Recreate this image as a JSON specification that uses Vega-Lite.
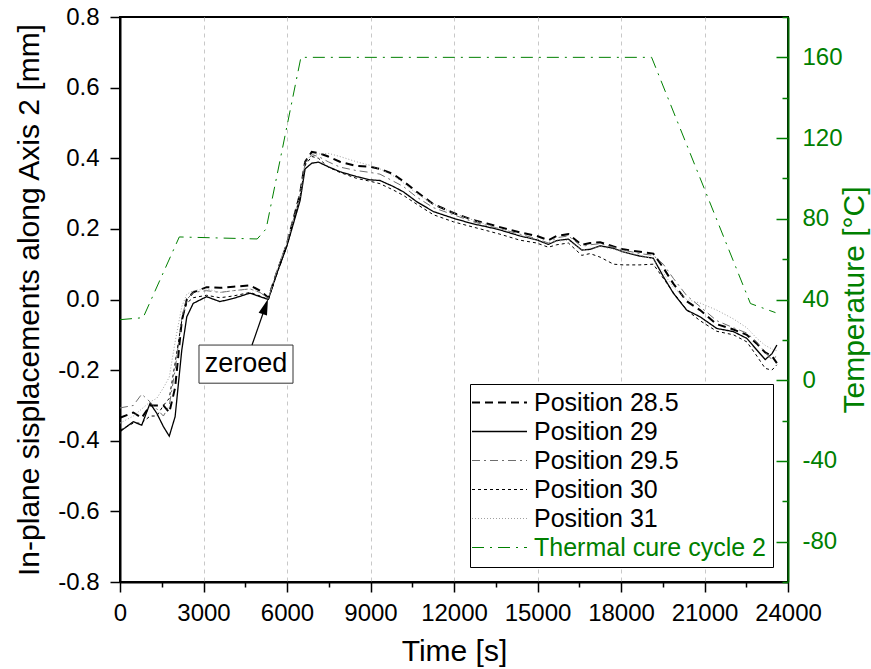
{
  "$schema": "https://vega.github.io/schema/vega-lite/v6.json",
  "width": 668,
  "height": 565,
  "autosize": "none",
  "padding": {"left": 120, "top": 17, "right": 83, "bottom": 87},
  "background": "white",
  "config": {
    "font": "Liberation Sans",
    "view": {"stroke": "black", "strokeWidth": 2},
    "axis": {
      "labelFont": "Liberation Sans",
      "titleFont": "Liberation Sans",
      "titleFontWeight": "normal",
      "labelFontSize": 24,
      "titleFontSize": 30,
      "domainWidth": 2,
      "tickWidth": 1.5,
      "labelFlush": false,
      "labelOverlap": false
    }
  },
  "datasets": {
    "disp": [
      {"t":0,"s":"Position 28.5","v":-0.335},{"t":0,"s":"Position 29","v":-0.374},{"t":0,"s":"Position 29.5","v":-0.307},{"t":0,"s":"Position 30","v":-0.37},{"t":0,"s":"Position 31","v":-0.35},
      {"t":480,"s":"Position 28.5","v":-0.32},{"t":480,"s":"Position 29","v":-0.346},{"t":480,"s":"Position 29.5","v":-0.3},{"t":480,"s":"Position 30","v":-0.35},{"t":480,"s":"Position 31","v":-0.33},
      {"t":780,"s":"Position 28.5","v":-0.335},{"t":780,"s":"Position 29","v":-0.356},{"t":780,"s":"Position 29.5","v":-0.268},{"t":780,"s":"Position 30","v":-0.35},{"t":780,"s":"Position 31","v":-0.31},
      {"t":1080,"s":"Position 28.5","v":-0.3},{"t":1080,"s":"Position 29","v":-0.294},{"t":1080,"s":"Position 29.5","v":-0.29},{"t":1080,"s":"Position 30","v":-0.33},{"t":1080,"s":"Position 31","v":-0.29},
      {"t":1320,"s":"Position 28.5","v":-0.3},{"t":1320,"s":"Position 29","v":-0.322},{"t":1320,"s":"Position 29.5","v":-0.31},{"t":1320,"s":"Position 30","v":-0.33},{"t":1320,"s":"Position 31","v":-0.28},
      {"t":1560,"s":"Position 28.5","v":-0.3},{"t":1560,"s":"Position 29","v":-0.36},{"t":1560,"s":"Position 29.5","v":-0.33},{"t":1560,"s":"Position 30","v":-0.3},{"t":1560,"s":"Position 31","v":-0.25},
      {"t":1770,"s":"Position 28.5","v":-0.32},{"t":1770,"s":"Position 29","v":-0.387},{"t":1770,"s":"Position 29.5","v":-0.3},{"t":1770,"s":"Position 30","v":-0.28},{"t":1770,"s":"Position 31","v":-0.22},
      {"t":1980,"s":"Position 28.5","v":-0.25},{"t":1980,"s":"Position 29","v":-0.332},{"t":1980,"s":"Position 29.5","v":-0.2},{"t":1980,"s":"Position 30","v":-0.18},{"t":1980,"s":"Position 31","v":-0.12},
      {"t":2220,"s":"Position 28.5","v":-0.06},{"t":2220,"s":"Position 29","v":-0.143},{"t":2220,"s":"Position 29.5","v":-0.05},{"t":2220,"s":"Position 30","v":-0.06},{"t":2220,"s":"Position 31","v":-0.02},
      {"t":2400,"s":"Position 28.5","v":0.0},{"t":2400,"s":"Position 29","v":-0.049},{"t":2400,"s":"Position 29.5","v":0.0},{"t":2400,"s":"Position 30","v":-0.01},{"t":2400,"s":"Position 31","v":0.015},
      {"t":2630,"s":"Position 28.5","v":0.02},{"t":2630,"s":"Position 29","v":-0.011},{"t":2630,"s":"Position 29.5","v":0.02},{"t":2630,"s":"Position 30","v":0.005},{"t":2630,"s":"Position 31","v":0.025},
      {"t":3110,"s":"Position 28.5","v":0.035},{"t":3110,"s":"Position 29","v":0.008},{"t":3110,"s":"Position 29.5","v":0.025},{"t":3110,"s":"Position 30","v":0.012},{"t":3110,"s":"Position 31","v":0.03},
      {"t":3590,"s":"Position 28.5","v":0.033},{"t":3590,"s":"Position 29","v":-0.006},{"t":3590,"s":"Position 29.5","v":0.02},{"t":3590,"s":"Position 30","v":0.005},{"t":3590,"s":"Position 31","v":0.02},
      {"t":4070,"s":"Position 28.5","v":0.036},{"t":4070,"s":"Position 29","v":0.003},{"t":4070,"s":"Position 29.5","v":0.025},{"t":4070,"s":"Position 30","v":0.01},{"t":4070,"s":"Position 31","v":0.025},
      {"t":4670,"s":"Position 28.5","v":0.04},{"t":4670,"s":"Position 29","v":0.018},{"t":4670,"s":"Position 29.5","v":0.03},{"t":4670,"s":"Position 30","v":0.02},{"t":4670,"s":"Position 31","v":0.03},
      {"t":5030,"s":"Position 28.5","v":0.025},{"t":5030,"s":"Position 29","v":0.008},{"t":5030,"s":"Position 29.5","v":0.02},{"t":5030,"s":"Position 30","v":0.01},{"t":5030,"s":"Position 31","v":0.02},
      {"t":5330,"s":"Position 28.5","v":0.005},{"t":5330,"s":"Position 29","v":0.0},{"t":5330,"s":"Position 29.5","v":0.003},{"t":5330,"s":"Position 30","v":0.0},{"t":5330,"s":"Position 31","v":0.003},
      {"t":5630,"s":"Position 28.5","v":0.075},{"t":5630,"s":"Position 29","v":0.074},{"t":5630,"s":"Position 29.5","v":0.08},{"t":5630,"s":"Position 30","v":0.07},{"t":5630,"s":"Position 31","v":0.08},
      {"t":5990,"s":"Position 28.5","v":0.155},{"t":5990,"s":"Position 29","v":0.15},{"t":5990,"s":"Position 29.5","v":0.16},{"t":5990,"s":"Position 30","v":0.15},{"t":5990,"s":"Position 31","v":0.16},
      {"t":6470,"s":"Position 28.5","v":0.3},{"t":6470,"s":"Position 29","v":0.28},{"t":6470,"s":"Position 29.5","v":0.29},{"t":6470,"s":"Position 30","v":0.29},{"t":6470,"s":"Position 31","v":0.3},
      {"t":6650,"s":"Position 28.5","v":0.39},{"t":6650,"s":"Position 29","v":0.37},{"t":6650,"s":"Position 29.5","v":0.385},{"t":6650,"s":"Position 30","v":0.38},{"t":6650,"s":"Position 31","v":0.39},
      {"t":6890,"s":"Position 28.5","v":0.418},{"t":6890,"s":"Position 29","v":0.386},{"t":6890,"s":"Position 29.5","v":0.41},{"t":6890,"s":"Position 30","v":0.405},{"t":6890,"s":"Position 31","v":0.41},
      {"t":7130,"s":"Position 28.5","v":0.415},{"t":7130,"s":"Position 29","v":0.389},{"t":7130,"s":"Position 29.5","v":0.405},{"t":7130,"s":"Position 30","v":0.4},{"t":7130,"s":"Position 31","v":0.412},
      {"t":7480,"s":"Position 28.5","v":0.405},{"t":7480,"s":"Position 29","v":0.376},{"t":7480,"s":"Position 29.5","v":0.39},{"t":7480,"s":"Position 30","v":0.375},{"t":7480,"s":"Position 31","v":0.414},
      {"t":7900,"s":"Position 28.5","v":0.39},{"t":7900,"s":"Position 29","v":0.362},{"t":7900,"s":"Position 29.5","v":0.375},{"t":7900,"s":"Position 30","v":0.36},{"t":7900,"s":"Position 31","v":0.405},
      {"t":8500,"s":"Position 28.5","v":0.378},{"t":8500,"s":"Position 29","v":0.348},{"t":8500,"s":"Position 29.5","v":0.365},{"t":8500,"s":"Position 30","v":0.343},{"t":8500,"s":"Position 31","v":0.39},
      {"t":8980,"s":"Position 28.5","v":0.376},{"t":8980,"s":"Position 29","v":0.339},{"t":8980,"s":"Position 29.5","v":0.36},{"t":8980,"s":"Position 30","v":0.335},{"t":8980,"s":"Position 31","v":0.38},
      {"t":9340,"s":"Position 28.5","v":0.37},{"t":9340,"s":"Position 29","v":0.337},{"t":9340,"s":"Position 29.5","v":0.355},{"t":9340,"s":"Position 30","v":0.328},{"t":9340,"s":"Position 31","v":0.37},
      {"t":9820,"s":"Position 28.5","v":0.355},{"t":9820,"s":"Position 29","v":0.32},{"t":9820,"s":"Position 29.5","v":0.335},{"t":9820,"s":"Position 30","v":0.31},{"t":9820,"s":"Position 31","v":0.35},
      {"t":10180,"s":"Position 28.5","v":0.335},{"t":10180,"s":"Position 29","v":0.305},{"t":10180,"s":"Position 29.5","v":0.32},{"t":10180,"s":"Position 30","v":0.295},{"t":10180,"s":"Position 31","v":0.33},
      {"t":10660,"s":"Position 28.5","v":0.305},{"t":10660,"s":"Position 29","v":0.277},{"t":10660,"s":"Position 29.5","v":0.29},{"t":10660,"s":"Position 30","v":0.27},{"t":10660,"s":"Position 31","v":0.3},
      {"t":11260,"s":"Position 28.5","v":0.27},{"t":11260,"s":"Position 29","v":0.249},{"t":11260,"s":"Position 29.5","v":0.26},{"t":11260,"s":"Position 30","v":0.24},{"t":11260,"s":"Position 31","v":0.27},
      {"t":11980,"s":"Position 28.5","v":0.245},{"t":11980,"s":"Position 29","v":0.23},{"t":11980,"s":"Position 29.5","v":0.24},{"t":11980,"s":"Position 30","v":0.22},{"t":11980,"s":"Position 31","v":0.245},
      {"t":12690,"s":"Position 28.5","v":0.225},{"t":12690,"s":"Position 29","v":0.214},{"t":12690,"s":"Position 29.5","v":0.22},{"t":12690,"s":"Position 30","v":0.205},{"t":12690,"s":"Position 31","v":0.225},
      {"t":13180,"s":"Position 28.5","v":0.215},{"t":13180,"s":"Position 29","v":0.206},{"t":13180,"s":"Position 29.5","v":0.21},{"t":13180,"s":"Position 30","v":0.195},{"t":13180,"s":"Position 31","v":0.212},
      {"t":13650,"s":"Position 28.5","v":0.205},{"t":13650,"s":"Position 29","v":0.197},{"t":13650,"s":"Position 29.5","v":0.2},{"t":13650,"s":"Position 30","v":0.185},{"t":13650,"s":"Position 31","v":0.2},
      {"t":14370,"s":"Position 28.5","v":0.19},{"t":14370,"s":"Position 29","v":0.18},{"t":14370,"s":"Position 29.5","v":0.185},{"t":14370,"s":"Position 30","v":0.168},{"t":14370,"s":"Position 31","v":0.182},
      {"t":14970,"s":"Position 28.5","v":0.18},{"t":14970,"s":"Position 29","v":0.169},{"t":14970,"s":"Position 29.5","v":0.172},{"t":14970,"s":"Position 30","v":0.16},{"t":14970,"s":"Position 31","v":0.17},
      {"t":15390,"s":"Position 28.5","v":0.168},{"t":15390,"s":"Position 29","v":0.156},{"t":15390,"s":"Position 29.5","v":0.16},{"t":15390,"s":"Position 30","v":0.148},{"t":15390,"s":"Position 31","v":0.158},
      {"t":15690,"s":"Position 28.5","v":0.18},{"t":15690,"s":"Position 29","v":0.167},{"t":15690,"s":"Position 29.5","v":0.175},{"t":15690,"s":"Position 30","v":0.155},{"t":15690,"s":"Position 31","v":0.165},
      {"t":16110,"s":"Position 28.5","v":0.185},{"t":16110,"s":"Position 29","v":0.171},{"t":16110,"s":"Position 29.5","v":0.18},{"t":16110,"s":"Position 30","v":0.16},{"t":16110,"s":"Position 31","v":0.168},
      {"t":16590,"s":"Position 28.5","v":0.155},{"t":16590,"s":"Position 29","v":0.14},{"t":16590,"s":"Position 29.5","v":0.15},{"t":16590,"s":"Position 30","v":0.125},{"t":16590,"s":"Position 31","v":0.14},
      {"t":16890,"s":"Position 28.5","v":0.16},{"t":16890,"s":"Position 29","v":0.142},{"t":16890,"s":"Position 29.5","v":0.155},{"t":16890,"s":"Position 30","v":0.13},{"t":16890,"s":"Position 31","v":0.145},
      {"t":17250,"s":"Position 28.5","v":0.162},{"t":17250,"s":"Position 29","v":0.152},{"t":17250,"s":"Position 29.5","v":0.158},{"t":17250,"s":"Position 30","v":0.12},{"t":17250,"s":"Position 31","v":0.15},
      {"t":17730,"s":"Position 28.5","v":0.15},{"t":17730,"s":"Position 29","v":0.145},{"t":17730,"s":"Position 29.5","v":0.148},{"t":17730,"s":"Position 30","v":0.1},{"t":17730,"s":"Position 31","v":0.142},
      {"t":18080,"s":"Position 28.5","v":0.142},{"t":18080,"s":"Position 29","v":0.135},{"t":18080,"s":"Position 29.5","v":0.14},{"t":18080,"s":"Position 30","v":0.098},{"t":18080,"s":"Position 31","v":0.135},
      {"t":18680,"s":"Position 28.5","v":0.135},{"t":18680,"s":"Position 29","v":0.123},{"t":18680,"s":"Position 29.5","v":0.13},{"t":18680,"s":"Position 30","v":0.098},{"t":18680,"s":"Position 31","v":0.125},
      {"t":19160,"s":"Position 28.5","v":0.13},{"t":19160,"s":"Position 29","v":0.117},{"t":19160,"s":"Position 29.5","v":0.125},{"t":19160,"s":"Position 30","v":0.1},{"t":19160,"s":"Position 31","v":0.115},
      {"t":19520,"s":"Position 28.5","v":0.09},{"t":19520,"s":"Position 29","v":0.065},{"t":19520,"s":"Position 29.5","v":0.1},{"t":19520,"s":"Position 30","v":0.06},{"t":19520,"s":"Position 31","v":0.075},
      {"t":19880,"s":"Position 28.5","v":0.045},{"t":19880,"s":"Position 29","v":0.018},{"t":19880,"s":"Position 29.5","v":0.06},{"t":19880,"s":"Position 30","v":0.02},{"t":19880,"s":"Position 31","v":0.035},
      {"t":20360,"s":"Position 28.5","v":-0.005},{"t":20360,"s":"Position 29","v":-0.03},{"t":20360,"s":"Position 29.5","v":0.011},{"t":20360,"s":"Position 30","v":-0.03},{"t":20360,"s":"Position 31","v":0.0},
      {"t":20840,"s":"Position 28.5","v":-0.03},{"t":20840,"s":"Position 29","v":-0.049},{"t":20840,"s":"Position 29.5","v":-0.02},{"t":20840,"s":"Position 30","v":-0.06},{"t":20840,"s":"Position 31","v":-0.01},
      {"t":21440,"s":"Position 28.5","v":-0.07},{"t":21440,"s":"Position 29","v":-0.082},{"t":21440,"s":"Position 29.5","v":-0.06},{"t":21440,"s":"Position 30","v":-0.09},{"t":21440,"s":"Position 31","v":-0.03},
      {"t":22040,"s":"Position 28.5","v":-0.085},{"t":22040,"s":"Position 29","v":-0.091},{"t":22040,"s":"Position 29.5","v":-0.08},{"t":22040,"s":"Position 30","v":-0.1},{"t":22040,"s":"Position 31","v":-0.055},
      {"t":22520,"s":"Position 28.5","v":-0.1},{"t":22520,"s":"Position 29","v":-0.11},{"t":22520,"s":"Position 29.5","v":-0.095},{"t":22520,"s":"Position 30","v":-0.12},{"t":22520,"s":"Position 31","v":-0.08},
      {"t":22880,"s":"Position 28.5","v":-0.125},{"t":22880,"s":"Position 29","v":-0.143},{"t":22880,"s":"Position 29.5","v":-0.12},{"t":22880,"s":"Position 30","v":-0.16},{"t":22880,"s":"Position 31","v":-0.11},
      {"t":23180,"s":"Position 28.5","v":-0.15},{"t":23180,"s":"Position 29","v":-0.17},{"t":23180,"s":"Position 29.5","v":-0.15},{"t":23180,"s":"Position 30","v":-0.195},{"t":23180,"s":"Position 31","v":-0.13},
      {"t":23420,"s":"Position 28.5","v":-0.16},{"t":23420,"s":"Position 29","v":-0.154},{"t":23420,"s":"Position 29.5","v":-0.17},{"t":23420,"s":"Position 30","v":-0.2},{"t":23420,"s":"Position 31","v":-0.14},
      {"t":23600,"s":"Position 28.5","v":-0.18},{"t":23600,"s":"Position 29","v":-0.129},{"t":23600,"s":"Position 29.5","v":-0.16},{"t":23600,"s":"Position 30","v":-0.185},{"t":23600,"s":"Position 31","v":-0.145}
    ],
    "temp": [
      {"t":0,"s":"Thermal cure cycle 2","temp":30},
      {"t":830,"s":"Thermal cure cycle 2","temp":31},
      {"t":2130,"s":"Thermal cure cycle 2","temp":71},
      {"t":4930,"s":"Thermal cure cycle 2","temp":70},
      {"t":5250,"s":"Thermal cure cycle 2","temp":75},
      {"t":6500,"s":"Thermal cure cycle 2","temp":160},
      {"t":19100,"s":"Thermal cure cycle 2","temp":160},
      {"t":22650,"s":"Thermal cure cycle 2","temp":38},
      {"t":23550,"s":"Thermal cure cycle 2","temp":33.5}
    ],
    "note": [
      {"label":"zeroed","t":4527,"v":-0.183,"bx1":2838,"bx2":6216,"by1":-0.129,"by2":-0.237,"ax1":4743,"ay1":-0.129,"ax2":5224,"ay2":-0.02}
    ]
  },
  "resolve": {"scale": {"y": "independent"}},
  "layer": [
    {
      "layer": [
        {
          "data": {"name": "disp"},
          "mark": {"type": "line"},
          "encoding": {
            "x": {
              "field": "t", "type": "quantitative",
              "scale": {"domain": [0, 24000], "nice": false, "zero": false},
              "axis": {
                "title": "Time [s]",
                "values": [0,1500,3000,4500,6000,7500,9000,10500,12000,13500,15000,16500,18000,19500,21000,22500,24000],
                "labelExpr": "datum.value % 3000 === 0 ? format(datum.value, 'd') : ''",
                "tickSize": {"condition": {"test": "datum.value % 3000 === 0", "value": 10}, "value": 5},
                "grid": true,
                "gridDash": [4, 4],
                "gridColor": "#c8c8c8",
                "gridWidth": 1,
                "gridOpacity": {"condition": {"test": "datum.value % 3000 === 0 && datum.value > 0 && datum.value < 24000", "value": 1}, "value": 0},
                "domainColor": "black", "tickColor": "black", "labelColor": "black", "titleColor": "black",
                "labelPadding": 9, "titlePadding": 11
              }
            },
            "y": {
              "field": "v", "type": "quantitative",
              "scale": {"domain": [-0.8, 0.8], "nice": false, "zero": false},
              "axis": {
                "title": "In-plane sisplacements along Axis 2 [mm]",
                "values": [-0.8,-0.7,-0.6,-0.5,-0.4,-0.3,-0.2,-0.1,0,0.1,0.2,0.3,0.4,0.5,0.6,0.7,0.8],
                "labelExpr": "abs(round(datum.value * 10)) % 2 === 0 ? (datum.value < -0.001 ? '-' : '') + format(abs(datum.value), '.1f') : ''",
                "tickSize": {"condition": {"test": "abs(round(datum.value * 10)) % 2 === 0", "value": 10}, "value": 5},
                "grid": false,
                "domainColor": "black", "tickColor": "black", "labelColor": "black", "titleColor": "black",
                "labelPadding": 11, "titlePadding": 13
              }
            },
            "color": {
              "field": "s", "type": "nominal",
              "scale": {
                "domain": ["Position 28.5","Position 29","Position 29.5","Position 30","Position 31","Thermal cure cycle 2"],
                "range": ["#000000","#000000","#6e6e6e","#000000","#a0a0a0","#008000"]
              },
              "legend": {
                "title": null,
                "orient": "bottom-right",
                "offset": 15,
                "labelFont": "Liberation Sans",
                "labelFontSize": 25,
                "labelLimit": 400,
                "symbolType": "M-3,0H3",
                "symbolSize": 336,
                "symbolOffset": 11,
                "strokeColor": "black",
                "fillColor": "white",
                "padding": 6,
                "rowPadding": 3,
                "labelOffset": 22,
                "encode": {"labels": {"update": {"fill": {"signal": "datum.label === 'Thermal cure cycle 2' ? '#008000' : '#000000'"}}}}
              }
            },
            "strokeDash": {
              "field": "s", "type": "nominal",
              "scale": {
                "domain": ["Position 28.5","Position 29","Position 29.5","Position 30","Position 31","Thermal cure cycle 2"],
                "range": [[8,5],[1,0],[8,4,2,4],[3,3],[1,2],[12,6,2,6]]
              }
            },
            "strokeWidth": {
              "field": "s", "type": "nominal",
              "scale": {
                "type": "ordinal",
                "domain": ["Position 28.5","Position 29","Position 29.5","Position 30","Position 31","Thermal cure cycle 2"],
                "range": [2, 1.3, 1, 1, 1, 1]
              }
            }
          }
        },
        {
          "data": {"name": "note"},
          "mark": {"type": "rect", "fill": "white", "stroke": "#333333", "strokeWidth": 1},
          "encoding": {
            "x": {"field": "bx1", "type": "quantitative"},
            "x2": {"field": "bx2"},
            "y": {"field": "by1", "type": "quantitative"},
            "y2": {"field": "by2"}
          }
        },
        {
          "data": {"name": "note"},
          "mark": {"type": "text", "fontSize": 27, "font": "Liberation Sans", "align": "center", "baseline": "middle", "color": "black"},
          "encoding": {
            "x": {"field": "t", "type": "quantitative"},
            "y": {"field": "v", "type": "quantitative"},
            "text": {"field": "label"}
          }
        },
        {
          "data": {"name": "note"},
          "mark": {"type": "rule", "color": "black", "strokeWidth": 1.2},
          "encoding": {
            "x": {"field": "ax1", "type": "quantitative"},
            "y": {"field": "ay1", "type": "quantitative"},
            "x2": {"field": "ax2"},
            "y2": {"field": "ay2"}
          }
        },
        {
          "data": {"name": "note"},
          "mark": {"type": "point", "shape": "M0,-1L0.55,1L-0.55,1Z", "filled": true, "color": "black", "opacity": 1, "size": 256, "angle": 19},
          "encoding": {
            "x": {"field": "ax2", "type": "quantitative"},
            "y": {"field": "ay2", "type": "quantitative"}
          }
        }
      ]
    },
    {
      "data": {"name": "temp"},
      "mark": {"type": "line"},
      "encoding": {
        "x": {"field": "t", "type": "quantitative"},
        "y": {
          "field": "temp", "type": "quantitative",
          "scale": {"domain": [-100, 180], "nice": false, "zero": false},
          "axis": {
            "orient": "right",
            "title": "Temperature [°C]",
            "titleAngle": 270,
            "values": [-100,-80,-60,-40,-20,0,20,40,60,80,100,120,140,160,180],
            "labelExpr": "datum.value % 40 === 0 ? (datum.value < 0 ? '-' : '') + format(abs(datum.value), 'd') : ''",
            "tickSize": {"condition": {"test": "datum.value % 40 === 0", "value": -12}, "value": -6},
            "grid": false,
            "domainColor": "#006400", "tickColor": "#008000", "labelColor": "#008000", "titleColor": "#008000",
            "labelPadding": 26, "titlePadding": 27
          }
        },
        "color": {
          "field": "s", "type": "nominal",
          "scale": {
            "domain": ["Position 28.5","Position 29","Position 29.5","Position 30","Position 31","Thermal cure cycle 2"],
            "range": ["#000000","#000000","#6e6e6e","#000000","#a0a0a0","#008000"]
          }
        },
        "strokeDash": {
          "field": "s", "type": "nominal",
          "scale": {
            "domain": ["Position 28.5","Position 29","Position 29.5","Position 30","Position 31","Thermal cure cycle 2"],
            "range": [[8,5],[1,0],[8,4,2,4],[3,3],[1,2],[12,6,2,6]]
          }
        },
        "strokeWidth": {
          "field": "s", "type": "nominal",
          "scale": {
            "type": "ordinal",
            "domain": ["Position 28.5","Position 29","Position 29.5","Position 30","Position 31","Thermal cure cycle 2"],
            "range": [2, 1.3, 1, 1, 1, 1]
          }
        }
      }
    }
  ]
}
